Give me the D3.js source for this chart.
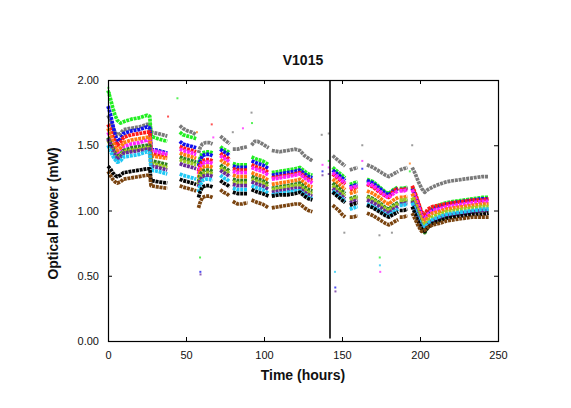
<!DOCTYPE html>
<html>
<head>
<meta charset="utf-8">
<script src="https://cdn.jsdelivr.net/npm/d3@7"></script>
<style>
  body { margin: 0; background: #fff; }
  text { font-family: "Liberation Sans", Arial, Helvetica, sans-serif; fill: #111; }
</style>
</head>
<body>
<svg id="chart" width="571" height="408"></svg>
<script>
// Measurement runs: hours at which readings were taken, one array per run
const runHours = [
  [0, 1.5, 3, 4.5, 6, 8, 10, 15, 20, 25, 26.8, 27.6, 32, 38],
  [46, 48, 51, 54, 56.5],
  [58, 59, 60.5, 62.5, 65, 67],
  [72, 74, 76, 78],
  [80, 83, 86, 89.5],
  [92, 94, 96, 99, 103],
  [105, 110, 115, 120, 123, 126, 128.5, 131],
  [144, 146, 148, 150, 152],
  [155, 157.5, 160],
  [166, 170, 174, 178, 180, 183, 186],
  [187, 189.5, 192],
  [195, 197, 199, 201, 203, 205, 208, 212, 217, 222, 228, 234, 240, 244]
];

// Optical power (mW) per device, one inner array per run
const gray = [
  [1.73, 1.69, 1.64, 1.60, 1.58, 1.59, 1.62, 1.63, 1.64, 1.66, 1.66, 1.60, 1.59, 1.57],
  [1.65, 1.63, 1.61, 1.60, 1.58],
  [1.44, 1.48, 1.51, 1.52, 1.52, 1.51],
  [1.57, 1.55, 1.53, 1.51],
  [1.47, 1.47, 1.48, 1.49],
  [1.50, 1.53, 1.53, 1.51, 1.48],
  [1.46, 1.45, 1.46, 1.47, 1.46, 1.42, 1.40, 1.38],
  [1.42, 1.40, 1.38, 1.36, 1.34],
  [1.31, 1.32, 1.33],
  [1.35, 1.33, 1.30, 1.27, 1.26, 1.28, 1.30],
  [1.31, 1.32, 1.33],
  [1.33, 1.28, 1.22, 1.17, 1.14, 1.16, 1.18, 1.20, 1.22, 1.23, 1.24, 1.25, 1.26, 1.26]
];
const green = [
  [1.92, 1.86, 1.79, 1.73, 1.69, 1.67, 1.68, 1.70, 1.71, 1.73, 1.72, 1.57, 1.55, 1.53],
  [1.60, 1.58, 1.57, 1.56, 1.55],
  [1.36, 1.40, 1.44, 1.45, 1.45, 1.44],
  [1.49, 1.47, 1.46, 1.44],
  [1.36, 1.35, 1.35, 1.35],
  [1.41, 1.40, 1.39, 1.38, 1.35],
  [1.29, 1.30, 1.31, 1.32, 1.33, 1.30, 1.28, 1.27],
  [1.33, 1.31, 1.29, 1.27, 1.25],
  [1.20, 1.21, 1.22],
  [1.24, 1.22, 1.18, 1.14, 1.13, 1.16, 1.18],
  [1.17, 1.17, 1.18],
  [1.18, 1.12, 1.05, 0.98, 0.95, 0.99, 1.02, 1.04, 1.06, 1.07, 1.08, 1.09, 1.10, 1.10]
];
const blue = [
  [1.80, 1.74, 1.66, 1.58, 1.53, 1.55, 1.59, 1.61, 1.62, 1.64, 1.63, 1.47, 1.46, 1.44],
  [1.53, 1.51, 1.50, 1.49, 1.48],
  [1.34, 1.38, 1.42, 1.43, 1.43, 1.42],
  [1.47, 1.45, 1.44, 1.42],
  [1.34, 1.33, 1.33, 1.33],
  [1.38, 1.37, 1.36, 1.35, 1.32],
  [1.27, 1.28, 1.29, 1.30, 1.31, 1.28, 1.26, 1.25],
  [1.31, 1.29, 1.27, 1.25, 1.23],
  [1.18, 1.19, 1.20],
  [1.23, 1.21, 1.17, 1.13, 1.12, 1.15, 1.17],
  [1.16, 1.16, 1.17],
  [1.17, 1.11, 1.04, 0.97, 0.94, 0.98, 1.01, 1.03, 1.05, 1.06, 1.07, 1.08, 1.09, 1.09]
];
const red = [
  [1.66, 1.62, 1.57, 1.53, 1.50, 1.52, 1.56, 1.58, 1.59, 1.60, 1.60, 1.44, 1.43, 1.42],
  [1.49, 1.48, 1.47, 1.46, 1.45],
  [1.30, 1.35, 1.38, 1.39, 1.39, 1.38],
  [1.44, 1.42, 1.41, 1.39],
  [1.32, 1.31, 1.31, 1.31],
  [1.35, 1.34, 1.33, 1.32, 1.29],
  [1.25, 1.26, 1.27, 1.28, 1.29, 1.26, 1.24, 1.23],
  [1.28, 1.26, 1.24, 1.22, 1.20],
  [1.16, 1.17, 1.18],
  [1.20, 1.18, 1.14, 1.11, 1.10, 1.15, 1.17],
  [1.16, 1.16, 1.17],
  [1.19, 1.13, 1.06, 0.99, 0.97, 1.01, 1.03, 1.04, 1.05, 1.06, 1.07, 1.08, 1.08, 1.09]
];
const magenta = [
  [1.60, 1.56, 1.51, 1.47, 1.44, 1.46, 1.49, 1.51, 1.52, 1.54, 1.53, 1.46, 1.45, 1.43],
  [1.47, 1.46, 1.45, 1.44, 1.43],
  [1.28, 1.33, 1.36, 1.37, 1.37, 1.36],
  [1.42, 1.40, 1.39, 1.37],
  [1.30, 1.29, 1.29, 1.29],
  [1.33, 1.32, 1.31, 1.30, 1.27],
  [1.24, 1.25, 1.26, 1.27, 1.28, 1.25, 1.23, 1.21],
  [1.29, 1.27, 1.25, 1.23, 1.21],
  [1.17, 1.18, 1.19],
  [1.21, 1.19, 1.15, 1.11, 1.10, 1.13, 1.15],
  [1.15, 1.15, 1.16],
  [1.16, 1.10, 1.03, 0.96, 0.93, 0.97, 1.00, 1.01, 1.03, 1.04, 1.05, 1.06, 1.07, 1.07]
];
const orange = [
  [1.63, 1.58, 1.53, 1.49, 1.46, 1.48, 1.52, 1.54, 1.55, 1.56, 1.56, 1.42, 1.41, 1.40],
  [1.44, 1.43, 1.42, 1.41, 1.40],
  [1.25, 1.30, 1.33, 1.34, 1.34, 1.33],
  [1.39, 1.37, 1.36, 1.34],
  [1.27, 1.26, 1.26, 1.26],
  [1.29, 1.28, 1.27, 1.26, 1.23],
  [1.20, 1.21, 1.22, 1.23, 1.24, 1.21, 1.19, 1.18],
  [1.24, 1.22, 1.20, 1.18, 1.16],
  [1.13, 1.14, 1.15],
  [1.15, 1.13, 1.10, 1.06, 1.05, 1.08, 1.10],
  [1.10, 1.10, 1.11],
  [1.13, 1.07, 1.00, 0.94, 0.91, 0.95, 0.98, 0.99, 1.01, 1.02, 1.03, 1.04, 1.05, 1.05]
];
const darkGreen = [
  [1.56, 1.52, 1.48, 1.44, 1.41, 1.43, 1.46, 1.48, 1.49, 1.50, 1.50, 1.38, 1.37, 1.35],
  [1.41, 1.40, 1.39, 1.38, 1.37],
  [1.22, 1.27, 1.30, 1.31, 1.31, 1.30],
  [1.35, 1.33, 1.32, 1.30],
  [1.24, 1.23, 1.23, 1.23],
  [1.26, 1.25, 1.24, 1.23, 1.20],
  [1.17, 1.18, 1.19, 1.20, 1.21, 1.18, 1.16, 1.15],
  [1.21, 1.19, 1.17, 1.15, 1.13],
  [1.09, 1.10, 1.11],
  [1.11, 1.09, 1.06, 1.02, 1.01, 1.04, 1.06],
  [1.07, 1.07, 1.08],
  [1.08, 1.02, 0.95, 0.88, 0.83, 0.87, 0.91, 0.93, 0.95, 0.97, 0.98, 0.99, 1.00, 1.00]
];
const yellowGreen = [
  [1.54, 1.50, 1.46, 1.42, 1.40, 1.42, 1.45, 1.46, 1.47, 1.48, 1.48, 1.36, 1.35, 1.33],
  [1.39, 1.38, 1.37, 1.36, 1.35],
  [1.20, 1.25, 1.28, 1.29, 1.29, 1.28],
  [1.33, 1.31, 1.30, 1.28],
  [1.22, 1.21, 1.21, 1.21],
  [1.24, 1.23, 1.22, 1.21, 1.18],
  [1.16, 1.17, 1.18, 1.19, 1.19, 1.16, 1.14, 1.13],
  [1.19, 1.17, 1.15, 1.13, 1.11],
  [1.08, 1.09, 1.10],
  [1.10, 1.08, 1.05, 1.01, 1.00, 1.03, 1.05],
  [1.08, 1.08, 1.09],
  [1.10, 1.04, 0.97, 0.91, 0.88, 0.92, 0.95, 0.97, 0.99, 1.00, 1.01, 1.02, 1.03, 1.03]
];
const purple = [
  [1.55, 1.51, 1.46, 1.42, 1.39, 1.41, 1.44, 1.45, 1.46, 1.47, 1.47, 1.34, 1.33, 1.31],
  [1.36, 1.35, 1.34, 1.33, 1.32],
  [1.18, 1.23, 1.26, 1.27, 1.27, 1.26],
  [1.31, 1.29, 1.28, 1.26],
  [1.20, 1.19, 1.19, 1.19],
  [1.22, 1.21, 1.20, 1.19, 1.16],
  [1.14, 1.15, 1.16, 1.17, 1.17, 1.14, 1.12, 1.11],
  [1.17, 1.15, 1.13, 1.11, 1.09],
  [1.06, 1.07, 1.08],
  [1.08, 1.06, 1.03, 0.99, 0.98, 1.01, 1.03],
  [1.05, 1.05, 1.06],
  [1.07, 1.01, 0.94, 0.88, 0.86, 0.89, 0.92, 0.94, 0.96, 0.97, 0.98, 0.99, 1.00, 1.00]
];
const cyan = [
  [1.50, 1.46, 1.42, 1.39, 1.37, 1.38, 1.41, 1.42, 1.43, 1.45, 1.44, 1.31, 1.30, 1.28],
  [1.28, 1.27, 1.26, 1.25, 1.24],
  [1.14, 1.19, 1.23, 1.24, 1.24, 1.23],
  [1.27, 1.25, 1.24, 1.22],
  [1.17, 1.16, 1.16, 1.16],
  [1.19, 1.18, 1.17, 1.16, 1.13],
  [1.12, 1.13, 1.14, 1.15, 1.15, 1.12, 1.10, 1.09],
  [1.15, 1.13, 1.11, 1.09, 1.07],
  [1.01, 1.02, 1.03],
  [1.05, 1.03, 1.00, 0.97, 0.96, 0.99, 1.01],
  [1.04, 1.04, 1.05],
  [1.06, 1.00, 0.93, 0.88, 0.87, 0.90, 0.93, 0.95, 0.97, 0.98, 0.99, 1.00, 1.01, 1.01]
];
const black = [
  [1.34, 1.32, 1.29, 1.27, 1.26, 1.27, 1.29, 1.30, 1.31, 1.32, 1.32, 1.23, 1.22, 1.21],
  [1.24, 1.23, 1.22, 1.21, 1.20],
  [1.10, 1.14, 1.18, 1.19, 1.19, 1.18],
  [1.23, 1.21, 1.20, 1.18],
  [1.14, 1.13, 1.13, 1.13],
  [1.16, 1.15, 1.14, 1.13, 1.11],
  [1.11, 1.12, 1.12, 1.13, 1.14, 1.11, 1.09, 1.08],
  [1.14, 1.12, 1.10, 1.08, 1.06],
  [1.04, 1.05, 1.06],
  [1.04, 1.02, 0.99, 0.96, 0.95, 0.97, 0.99],
  [1.00, 1.00, 1.01],
  [1.03, 0.97, 0.91, 0.86, 0.84, 0.87, 0.90, 0.92, 0.94, 0.95, 0.96, 0.97, 0.97, 0.98]
];
const brown = [
  [1.30, 1.27, 1.24, 1.22, 1.21, 1.22, 1.24, 1.25, 1.26, 1.27, 1.27, 1.19, 1.18, 1.17],
  [1.19, 1.18, 1.17, 1.16, 1.15],
  [1.02, 1.06, 1.10, 1.11, 1.11, 1.10],
  [1.16, 1.14, 1.13, 1.11],
  [1.07, 1.05, 1.05, 1.06],
  [1.08, 1.07, 1.06, 1.05, 1.02],
  [1.02, 1.03, 1.04, 1.05, 1.05, 1.02, 1.00, 0.99],
  [1.04, 1.02, 1.00, 0.97, 0.95],
  [0.95, 0.95, 0.96],
  [0.98, 0.96, 0.93, 0.90, 0.89, 0.91, 0.93],
  [0.95, 0.95, 0.96],
  [0.98, 0.93, 0.88, 0.84, 0.85, 0.87, 0.89, 0.90, 0.92, 0.93, 0.94, 0.95, 0.95, 0.95]
];

// Isolated readings away from the main traces: [device, hour, mW]
const strayReadings = [
  ["green", 0.2, 1.94], ["green", 1.2, 1.90], ["green", 44.5, 1.86], ["red", 38.5, 1.72],
  ["orange", 57, 1.60], ["red", 66.5, 1.66], ["magenta", 67.5, 1.56], ["gray", 92, 1.75],
  ["green", 92.3, 1.67], ["magenta", 86.5, 1.63], ["gray", 80, 1.60], ["gray", 137, 1.58],
  ["gray", 141.5, 1.59], ["magenta", 137.5, 1.35], ["blue", 137.5, 1.30], ["purple", 137.5, 1.27],
  ["green", 141.5, 1.38], ["magenta", 141.5, 1.33], ["purple", 141.5, 1.28], ["gray", 163, 1.50],
  ["magenta", 163, 1.38], ["blue", 163, 1.32], ["gray", 195, 1.50], ["orange", 193.5, 1.36],
  ["green", 193.5, 1.30], ["green", 59, 0.64], ["blue", 59.2, 0.53], ["purple", 59.3, 0.51],
  ["cyan", 145.5, 0.53], ["blue", 145.7, 0.41], ["purple", 145.8, 0.38], ["gray", 151.5, 0.83],
  ["gray", 174, 0.81], ["green", 174.2, 0.64], ["cyan", 174.3, 0.58], ["magenta", 174.5, 0.53],
  ["gray", 182, 0.83]
];

const markerHour = 142.3;
const xTicks = [0, 50, 100, 150, 200, 250];
const yTicks = [0, 0.5, 1.0, 1.5, 2.0];

const devices = [
  { name: "gray", values: gray, color: "#7a7a7a" },
  { name: "green", values: green, color: "#22ee22" },
  { name: "blue", values: blue, color: "#1010ee" },
  { name: "red", values: red, color: "#ff1a1a" },
  { name: "magenta", values: magenta, color: "#ff22ff" },
  { name: "orange", values: orange, color: "#ff7a10" },
  { name: "darkGreen", values: darkGreen, color: "#2f7f1f" },
  { name: "yellowGreen", values: yellowGreen, color: "#9ccc22" },
  { name: "purple", values: purple, color: "#6a2a9a" },
  { name: "cyan", values: cyan, color: "#20c8f4" },
  { name: "black", values: black, color: "#050505" },
  { name: "brown", values: brown, color: "#7a4410" }
];
const colorOf = Object.fromEntries(devices.map(d => [d.name, d.color]));

const margin = { top: 80, right: 73, bottom: 67, left: 108 };
const W = 571, H = 408;
const iw = W - margin.left - margin.right;
const ih = H - margin.top - margin.bottom;

const svg = d3.select("#chart");
const g = svg.append("g").attr("transform", `translate(${margin.left},${margin.top})`);

const x = d3.scaleLinear().domain([0, 250]).range([0, iw]);
const y = d3.scaleLinear().domain([0, 2]).range([ih, 0]);

// Traces: one path per device per run, dashed so the dense readings read as markers
const line = d3.line().x(d => x(d[0])).y(d => y(d[1]));
const traces = g.append("g");
devices.forEach(dev => {
  runHours.forEach((hours, i) => {
    const pts = hours.map((h, k) => [h, dev.values[i][k]]);
    traces.append("path")
      .datum(pts)
      .attr("d", line)
      .attr("fill", "none")
      .attr("stroke", dev.color)
      .attr("stroke-width", 3.7)
      .attr("stroke-dasharray", "3,0.8")
      .attr("stroke-linejoin", "round");
  });
});

// Stray readings
g.append("g").selectAll("rect")
  .data(strayReadings)
  .join("rect")
  .attr("x", d => x(d[1]) - 1)
  .attr("y", d => y(d[2]) - 1)
  .attr("width", 2)
  .attr("height", 2)
  .attr("fill", d => colorOf[d[0]])
  .attr("opacity", 0.75);

// Event marker
g.append("line")
  .attr("x1", x(markerHour)).attr("x2", x(markerHour))
  .attr("y1", y(2)).attr("y2", y(0.02))
  .attr("stroke", "#000").attr("stroke-width", 1.6);

// Axes with inward ticks on all four sides
const fmtY = d3.format(".2f");
const axisFont = sel => sel.selectAll("text")
  .style("font-family", '"Liberation Sans", Arial, sans-serif')
  .style("font-size", "11px").attr("fill", "#222");

g.append("g").attr("transform", `translate(0,${ih})`)
  .call(d3.axisBottom(x).tickValues(xTicks).tickSizeInner(-4).tickSizeOuter(0).tickPadding(10))
  .call(a => a.select(".domain").remove()).call(axisFont);
g.append("g")
  .call(d3.axisTop(x).tickValues(xTicks).tickSizeInner(-4).tickSizeOuter(0).tickFormat(""))
  .call(a => a.select(".domain").remove());
g.append("g")
  .call(d3.axisLeft(y).tickValues(yTicks).tickFormat(fmtY).tickSizeInner(-4).tickSizeOuter(0).tickPadding(9))
  .call(a => a.select(".domain").remove()).call(axisFont);
g.append("g").attr("transform", `translate(${iw},0)`)
  .call(d3.axisRight(y).tickValues(yTicks).tickSizeInner(-4).tickSizeOuter(0).tickFormat(""))
  .call(a => a.select(".domain").remove());

// Plot frame
g.append("rect")
  .attr("x", 0.5).attr("y", 0.5).attr("width", iw).attr("height", ih)
  .attr("fill", "none").attr("stroke", "#000").attr("stroke-width", 1.2);

// Titles
svg.append("text")
  .attr("x", margin.left + iw / 2).attr("y", 65)
  .attr("text-anchor", "middle")
  .style("font-size", "14px").style("font-weight", "bold")
  .text("V1015");
svg.append("text")
  .attr("x", margin.left + iw / 2).attr("y", 380)
  .attr("text-anchor", "middle")
  .style("font-size", "14px").style("font-weight", "bold")
  .text("Time (hours)");
svg.append("text")
  .attr("transform", `translate(58,${margin.top + ih / 2 + 3}) rotate(-90)`)
  .attr("text-anchor", "middle")
  .style("font-size", "14px").style("font-weight", "bold")
  .text("Optical Power (mW)");
</script>
</body>
</html>
